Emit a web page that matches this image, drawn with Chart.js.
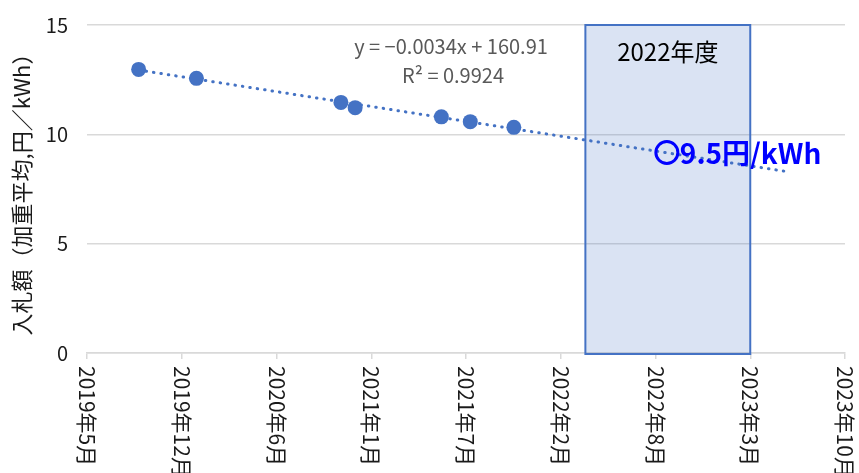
<!DOCTYPE html>
<html>
<head>
<meta charset="utf-8">
<script src="https://cdn.jsdelivr.net/npm/chart.js@4.4.1/dist/chart.umd.min.js"></script>
<style>
  html, body { margin: 0; padding: 0; background: #fff; }
  #wrap { width: 859px; height: 473px; position: relative; }
</style>
</head>
<body>
<div id="wrap"><canvas id="c"></canvas></div>
<script>
// Auction results (weighted average bid price).
const auctionDates = ['2019-09-01', '2020-01-01', '2020-11-01', '2020-12-01', '2021-06-01', '2021-08-01', '2021-11-01'];
const auctionPrices = [12.97, 12.56, 11.46, 11.22, 10.80, 10.58, 10.32];

// Linear trend line endpoints (Excel trendline, forecast forward).
const trendDates = ['2019-09-01', '2023-06-05'];
const trendValues = [12.94, 8.28];

// Highlighted fiscal year and the projected value marker.
const fyLabel = '2022年度';
const fyRange = ['2022-04-01', '2023-03-15'];
const projDate = '2022-09-20';
const projValue = 9.17;
const projLabel = '9.5円/kWh';

const eqLines = ['y = −0.0034x + 160.91', 'R² = 0.9924'];

// x axis: Excel serial days, same bounds as the original sheet
const xMin = 43600, xMax = 45200, xStep = 200;
const yMin = 0, yMax = 15, yStep = 5;

const FONT = '"Noto Sans CJK JP", "Noto Sans", sans-serif';
const BLUE = '#4472C4';

function serial(s) {
  const [y, m, d] = s.split('-').map(Number);
  return Date.UTC(y, m - 1, d) / 86400000 + 25569;
}
function ymLabel(v) {
  const dt = new Date((v - 25569) * 86400000);
  return `${dt.getUTCFullYear()}年${dt.getUTCMonth() + 1}月`;
}

const boxPlugin = {
  id: 'fy-box',
  beforeDatasetsDraw(chart) {
    const { ctx, scales: { x, y } } = chart;
    const x0 = x.getPixelForValue(serial(fyRange[0]));
    const x1 = x.getPixelForValue(serial(fyRange[1]));
    const y0 = y.getPixelForValue(yMax);
    const y1 = y.getPixelForValue(yMin) + 1;
    ctx.save();
    ctx.fillStyle = 'rgba(68,114,196,0.2)';
    ctx.fillRect(x0, y0, x1 - x0, y1 - y0);
    ctx.strokeStyle = BLUE;
    ctx.lineWidth = 2;
    ctx.strokeRect(x0, y0, x1 - x0, y1 - y0);
    ctx.fillStyle = '#000';
    ctx.font = `24px ${FONT}`;
    ctx.textAlign = 'center';
    ctx.textBaseline = 'middle';
    ctx.fillText(fyLabel, (x0 + x1) / 2, 52);
    ctx.restore();
  },
};

const textPlugin = {
  id: 'texts',
  afterDatasetsDraw(chart) {
    const { ctx, scales: { x, y } } = chart;
    ctx.save();
    // equation
    ctx.fillStyle = '#595959';
    ctx.font = `20px ${FONT}`;
    ctx.textAlign = 'center';
    ctx.textBaseline = 'middle';
    ctx.fillText(eqLines[0], 451, 46);
    ctx.fillText(eqLines[1], 453, 75);
    // projected value label
    const px = x.getPixelForValue(serial(projDate));
    const py = y.getPixelForValue(projValue);
    ctx.fillStyle = '#0000FF';
    ctx.font = `bold 28px ${FONT}`;
    ctx.textAlign = 'left';
    ctx.fillText(projLabel, px + 13, py + 1);
    // rotated x tick labels, reading top to bottom
    ctx.fillStyle = '#1a1a1a';
    ctx.font = `21px ${FONT}`;
    ctx.textBaseline = 'middle';
    for (const t of x.ticks) {
      const tx = x.getPixelForValue(t.value);
      ctx.save();
      ctx.translate(tx, 366);
      ctx.rotate(Math.PI / 2);
      ctx.fillText(ymLabel(t.value), 0, 0);
      ctx.restore();
    }
    ctx.restore();
  },
};

new Chart(document.getElementById('c'), {
  type: 'scatter',
  data: {
    datasets: [
      {
        label: 'proj', data: [{ x: serial(projDate), y: projValue }],
        pointRadius: 11, pointBorderWidth: 3, pointBorderColor: '#0000FF',
        pointBackgroundColor: 'rgba(0,0,0,0)', order: 0,
      },
      {
        label: 'auction', data: auctionDates.map((d, i) => ({ x: serial(d), y: auctionPrices[i] })),
        pointRadius: 7.5, pointBackgroundColor: BLUE, pointBorderColor: BLUE, pointBorderWidth: 0, order: 1,
      },
      {
        label: 'trend', type: 'line',
        data: trendDates.map((d, i) => ({ x: serial(d), y: trendValues[i] })),
        borderColor: BLUE, borderWidth: 3, borderDash: [0.5, 7], borderCapStyle: 'round',
        pointRadius: 0, fill: false, order: 2,
      },
    ],
  },
  options: {
    responsive: true, maintainAspectRatio: false, animation: false,
    layout: { padding: { top: 25, right: 12, left: 0, bottom: 0 } },
    plugins: { legend: { display: false }, tooltip: { enabled: false } },
    scales: {
      x: {
        type: 'linear', min: xMin, max: xMax,
        ticks: { display: false, stepSize: xStep },
        grid: { drawOnChartArea: false, drawTicks: true, tickLength: 6, color: '#d9d9d9', lineWidth: 1.5 },
        border: { display: true, color: '#d9d9d9', width: 1.5 },
        afterFit: (s) => { s.height = 120; s.paddingLeft = 0; s.paddingRight = 0; },
      },
      y: {
        min: yMin, max: yMax,
        ticks: { stepSize: yStep, color: '#1a1a1a', font: { family: FONT, size: 20 }, padding: 19 },
        grid: { color: '#d9d9d9', lineWidth: 1.5, drawTicks: false },
        border: { display: false },
        title: {
          display: true, text: '入札額（加重平均,円／kWh）', color: '#1a1a1a',
          font: { family: FONT, size: 22 }, padding: { top: 8, bottom: 0 },
        },
        afterFit: (s) => { s.width = 87; s.paddingTop = 0; s.paddingBottom = 0; },
      },
    },
  },
  plugins: [boxPlugin, textPlugin],
});
</script>
</body>
</html>
